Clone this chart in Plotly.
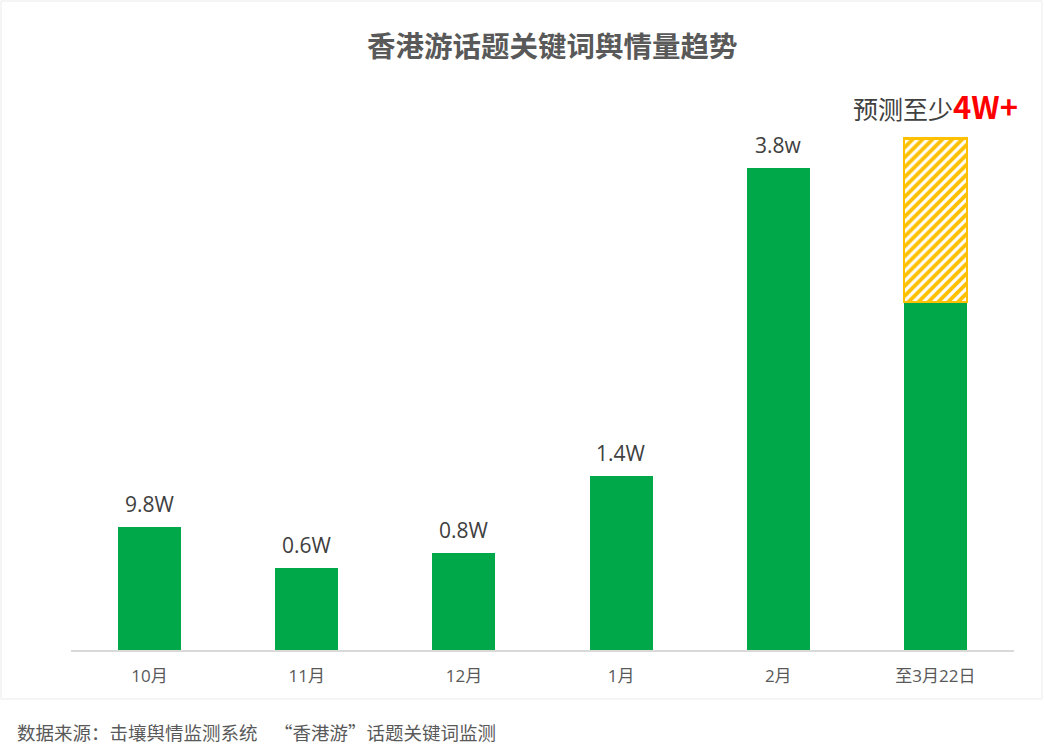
import plotly.graph_objects as go

categories = ["10月", "11月", "12月", "1月", "2月", "至3月22日"]
values = [0.97, 0.65, 0.765, 1.372, 3.8, 2.745]
labels = ["9.8W", "0.6W", "0.8W", "1.4W", "3.8w", ""]
forecast_extra = [None, None, None, None, None, 1.29]
forecast_label = "预测至少"
forecast_value_label = "4W+"
title_text = "香港游话题关键词舆情量趋势"
source_text = "数据来源：击壤舆情监测系统\u00a0\u00a0\u00a0\u00a0“香港游”话题关键词监测"

FONT = "Noto Sans CJK SC, Microsoft YaHei, sans-serif"
NUMFONT = "Open Sans, Noto Sans CJK SC, sans-serif"
GREEN = "#00A84A"
GOLD = "#FFC000"

# pixel geometry helpers (plot area: x 71..1014, y 100..650)
L, R, T, B = 71, 1014, 100, 650
def px(x):
    return (x - L) / (R - L)
def py(y):
    return (B - y) / (B - T)

fig = go.Figure()
fig.add_trace(go.Bar(
    x=categories, y=values, marker=dict(color=GREEN, line=dict(width=0)),
    width=0.4, hoverinfo="skip", showlegend=False,
))
fig.add_trace(go.Bar(
    x=categories, y=forecast_extra,
    marker=dict(color="white", line=dict(color=GOLD, width=2.5),
                pattern=dict(shape="/", fgcolor=GOLD, bgcolor="white", fgopacity=1,
                             size=7, solidity=0.55)),
    width=0.4, hoverinfo="skip", showlegend=False,
))

annotations = []
for c, v, lab in zip(categories, values, labels):
    if lab:
        annotations.append(dict(x=c, y=v, text=lab, showarrow=False, yanchor="bottom",
                                yshift=7, font=dict(family=NUMFONT, size=21, color="#404040")))
totals = [v + (e or 0) for v, e in zip(values, forecast_extra)]
annotations.append(dict(
    x=categories[-1], y=totals[-1], showarrow=False, yanchor="bottom", yshift=8,
    text=forecast_label + "<b><span style='color:#FF0000;font-size:31px'>" + forecast_value_label + "</span></b>",
    font=dict(family=FONT, size=25, color="#404040"),
))
annotations.append(dict(x=px(552), y=py(45), xref="paper", yref="paper", showarrow=False,
                        text="<b>" + title_text + "</b>", xanchor="center", yanchor="middle",
                        font=dict(family=FONT, size=28.5, color="#595959")))
annotations.append(dict(x=px(15), y=py(732), xref="paper", yref="paper", showarrow=False,
                        text=source_text, xanchor="left", yanchor="middle",
                        font=dict(family=FONT, size=18.5, color="#595959")))

shapes = [dict(type="rect", xref="paper", yref="paper",
               x0=px(1), x1=px(1042), y0=py(699), y1=py(1),
               line=dict(color="#EBEBEB", width=1), fillcolor="rgba(0,0,0,0)", layer="below")]

fig.update_layout(
    width=1044, height=752, barmode="stack",
    margin=dict(l=L, r=1044 - R, t=T, b=752 - B, autoexpand=False),
    paper_bgcolor="white", plot_bgcolor="white",
    annotations=annotations, shapes=shapes,
    xaxis=dict(showline=True, linecolor="#D9D9D9", linewidth=2, showgrid=False,
               ticks="", tickfont=dict(family=NUMFONT, size=17, color="#595959"),
               ticklabelstandoff=10, fixedrange=True, automargin=False, range=[-0.5, 5.5]),
    yaxis=dict(range=[0, 550 / 126.8], visible=False, showgrid=False, zeroline=False,
               fixedrange=True, automargin=False),
    bargap=0.6,
)

fig.write_html("out.html", config={"displayModeBar": False})
